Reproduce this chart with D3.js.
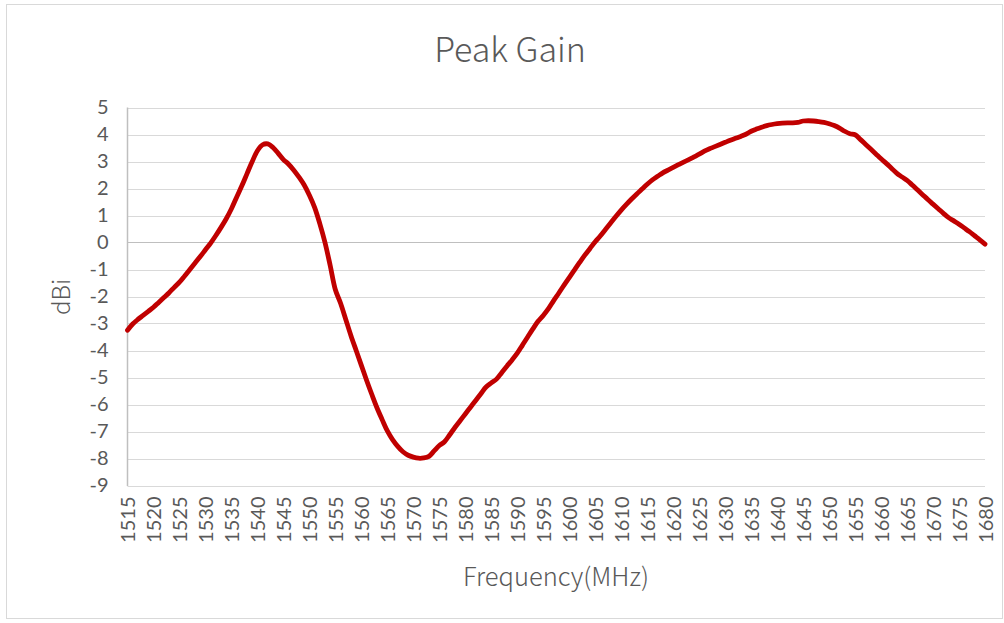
<!DOCTYPE html>
<html><head><meta charset="utf-8">
<script src="https://cdn.jsdelivr.net/npm/d3@7"></script>
<style>
html,body{margin:0;padding:0;background:#fff;}
svg{display:block;}
text{font-family:"Noto Sans CJK SC","Noto Sans",sans-serif;font-weight:300;fill:#595959;}
</style></head><body>
<svg id="chart" width="1004" height="623"></svg>
<script>
const title = "Peak Gain";
const xTitle = "Frequency(MHz)";
const yTitle = "dBi";
const freqs = d3.range(1515, 1681, 1);
const xTickLabels = d3.range(1515, 1681, 5);
const yTickLabels = [5,4,3,2,1,0,-1,-2,-3,-4,-5,-6,-7,-8,-9];
const gain = [
-3.25,-3.02,-2.85,-2.70,-2.55,-2.40,-2.22,-2.04,-1.86,-1.66,
-1.47,-1.24,-1.00,-0.76,-0.52,-0.27,-0.02,0.26,0.56,0.88,
1.25,1.68,2.10,2.55,3.00,3.40,3.62,3.65,3.52,3.30,
3.07,2.90,2.68,2.42,2.13,1.75,1.30,0.70,0.00,-0.85,
-1.75,-2.25,-2.85,-3.45,-4.00,-4.55,-5.10,-5.62,-6.12,-6.56,
-6.98,-7.30,-7.55,-7.75,-7.88,-7.95,-7.99,-7.98,-7.92,-7.72,
-7.52,-7.38,-7.12,-6.85,-6.60,-6.35,-6.10,-5.85,-5.60,-5.35,
-5.20,-5.06,-4.82,-4.58,-4.35,-4.10,-3.80,-3.50,-3.20,-2.92,
-2.70,-2.45,-2.15,-1.87,-1.58,-1.30,-1.02,-0.74,-0.47,-0.22,
0.03,0.25,0.49,0.73,0.97,1.20,1.41,1.61,1.80,1.98,
2.16,2.32,2.45,2.58,2.68,2.78,2.88,2.98,3.07,3.17,
3.27,3.38,3.47,3.55,3.63,3.71,3.79,3.86,3.93,4.01,
4.12,4.20,4.27,4.33,4.37,4.40,4.42,4.43,4.43,4.45,
4.50,4.51,4.50,4.48,4.45,4.40,4.33,4.24,4.12,4.03,
3.99,3.82,3.64,3.46,3.28,3.10,2.93,2.75,2.57,2.43,
2.30,2.13,1.95,1.77,1.59,1.42,1.25,1.08,0.92,0.80,
0.68,0.54,0.40,0.25,0.10,-0.06
];

const svg = d3.select("#chart");
const m = {left:127.5, right:985, top:107.5, bottom:485.5};
const tickFont = 'Lato,"Noto Sans",sans-serif';

svg.append("rect").attr("x",6.5).attr("y",4.5).attr("width",996).attr("height",614)
  .attr("fill","#fff").attr("stroke","#d9d9d9").attr("stroke-width",1);

const x = d3.scaleLinear().domain([1515,1680]).range([m.left, m.right]);
const y = d3.scaleLinear().domain([-9,5]).range([m.bottom, m.top]);

// gridlines
svg.append("g").selectAll("line").data(yTickLabels).join("line")
  .attr("x1", m.left).attr("x2", m.right)
  .attr("y1", d=>Math.round(y(d))+0.5).attr("y2", d=>Math.round(y(d))+0.5)
  .attr("stroke", d=> d===0 ? "#bfbfbf" : "#d9d9d9").attr("stroke-width",1.2);

// left axis line
svg.append("line").attr("x1",m.left).attr("x2",m.left).attr("y1",y(5)).attr("y2",y(-9)+0.5)
  .attr("stroke","#bfbfbf").attr("stroke-width",1.5);

// y axis
const yAxis = d3.axisLeft(y).tickValues(yTickLabels).tickSize(0).tickPadding(0).tickFormat(d=>d<0?"-"+Math.abs(d):String(d));
const gy = svg.append("g").attr("transform",`translate(${m.left-19},0)`).call(yAxis);
gy.select(".domain").remove();
gy.selectAll("text").attr("font-size","20px").attr("fill","#595959")
  .style("font-family",tickFont).style("font-weight","400");

// x axis
const xAxis = d3.axisBottom(x).tickValues(xTickLabels).tickSize(0).tickPadding(0).tickFormat(d=>String(d));
const gx = svg.append("g").attr("transform",`translate(0,${m.bottom})`).call(xAxis);
gx.select(".domain").remove();
gx.selectAll("text")
  .attr("font-size","20px").attr("fill","#595959")
  .style("font-family",tickFont).style("font-weight","400")
  .attr("text-anchor","end")
  .attr("transform","rotate(-90)")
  .attr("x",-11).attr("y",0).attr("dy","0.35em");

// line
const line = d3.line().x((d,i)=>x(freqs[i])).y(d=>y(d)).curve(d3.curveCatmullRom.alpha(0.5));
svg.append("path").datum(gain).attr("d",line).attr("fill","none")
  .attr("stroke","#C00000").attr("stroke-width",4.8).attr("stroke-linejoin","round").attr("stroke-linecap","round");

// titles
svg.append("text").attr("x",510).attr("y",62).attr("text-anchor","middle")
  .attr("font-size","34px").text(title);
svg.append("text").attr("x",556).attr("y",586).attr("text-anchor","middle")
  .attr("font-size","25.5px").text(xTitle);
svg.append("text").attr("transform",`translate(70,297) rotate(-90)`).attr("text-anchor","middle")
  .attr("font-size","24px").text(yTitle);
</script>
</body></html>
